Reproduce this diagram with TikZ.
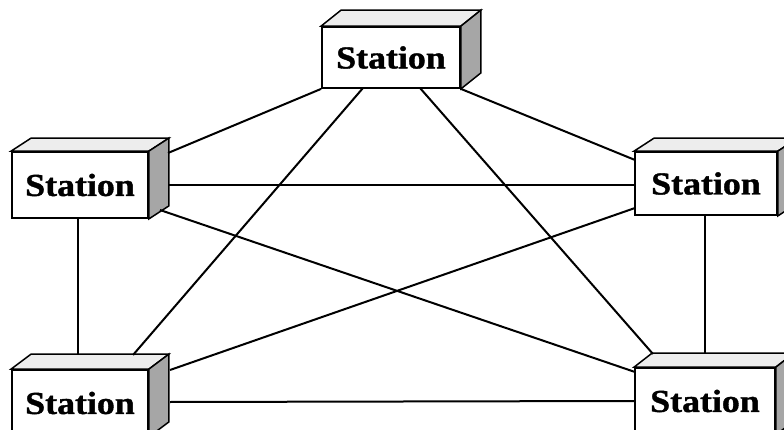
\documentclass[tikz,border=0pt]{standalone}
\usepackage{fontspec}
\newfontfamily\stfont[FakeStretch=1.12, BoldFeatures={FakeBold=1.2}]{Liberation Serif}
\usetikzlibrary{calc}
\tikzset{
  frontface/.style={draw=black, line width=1.8pt, fill=white, inner sep=0pt,
    font=\stfont\bfseries\fontsize{32}{36}\selectfont},
  topface/.style={draw=black, line width=1.5pt, fill=gray!14},
  sideface/.style={draw=black, line width=1.5pt, fill=gray!70},
  link/.style={draw=black, line width=2pt},
}
% #1 name, #2 cx, #3 cy, #4 width, #5 height, #6 dx, #7 dy
\newcommand\stbox[7]{%
  \node[frontface, minimum width=#4pt, minimum height=#5pt] (#1) at (#2,#3) {Station};
  \path[topface] (#1.north west) -- ++(#6,#7) -- ($(#1.north east)+(#6,#7)$) -- (#1.north east) -- cycle;
  \path[sideface] (#1.north east) -- ++(#6,#7) -- ($(#1.south east)+(#6,#7)$) -- (#1.south east) -- cycle;
  \node[frontface, minimum width=#4pt, minimum height=#5pt] at (#1) {Station};
}
\begin{document}
\begin{tikzpicture}[x=1pt,y=-1pt]
\useasboundingbox (0,0) rectangle (784,430);
\stbox{T}{391}{57.5}{138}{61}{20}{-16}
\stbox{L}{80}{185}{136}{66}{20}{-13}
\stbox{R}{706}{183.5}{142}{63}{20}{-13}
\stbox{BL}{80}{403}{136}{66}{20}{-15}
\stbox{BR}{705}{401}{140}{66}{18}{-14}
% connection points
\coordinate (T-b1) at (363,88);
\coordinate (T-b2) at (420,88);
\coordinate (L-a) at (168,153);
\coordinate (L-b) at (168,185);
\coordinate (L-c) at (160,210);
\coordinate (L-bot) at (78,218);
\coordinate (R-a) at (635,160);
\coordinate (R-b) at (635,185);
\coordinate (R-c) at (635,208);
\coordinate (R-bot) at (705,215);
\coordinate (BL-top) at (133,355);
\coordinate (BL-v) at (78,355);
\coordinate (BL-s1) at (170,370);
\coordinate (BL-s2) at (170,402);
\coordinate (BR-top) at (653,354);
\coordinate (BR-v) at (705,354);
\coordinate (BR-a) at (635,372);
\coordinate (BR-b) at (635,401);
\draw[link] (T.south west) -- (L-a);
\draw[link] (T-b1) -- (BL-top);
\draw[link] (T-b2) -- (BR-top);
\draw[link] (T.south east) -- (R-a);
\draw[link] (L-b) -- (R-b);
\draw[link] (L-c) -- (BR-a);
\draw[link] (R-c) -- (BL-s1);
\draw[link] (BL-s2) -- (BR-b);
\draw[link] (L-bot) -- (BL-v);
\draw[link] (R-bot) -- (BR-v);
\end{tikzpicture}
\end{document}
